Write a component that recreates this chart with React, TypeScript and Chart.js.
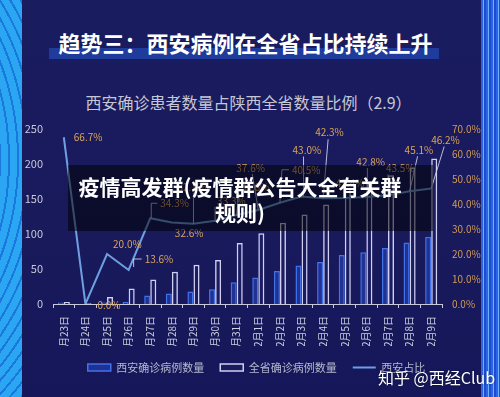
import React, { useEffect, useRef } from 'react';
import { Chart, registerables } from 'chart.js';

Chart.register(...registerables);

const categories = [
  '1月23日', '1月24日', '1月25日', '1月26日', '1月27日', '1月28日', '1月29日', '1月30日', '1月31日',
  '2月1日', '2月2日', '2月3日', '2月4日', '2月5日', '2月6日', '2月7日', '2月8日', '2月9日',
];
const xianCases = [2, 0, 2, 3, 12, 15, 18, 21, 31, 38, 47, 55, 60, 70, 74, 80, 88, 96];
const provinceCases = [3, 1, 10, 22, 35, 46, 56, 63, 87, 101, 116, 128, 142, 165, 173, 184, 195, 208];
const xianShare = [66.7, 0.0, 20.0, 13.6, 34.3, 32.6, 32.1, 33.3, 35.6, 37.6, 40.5, 43.0, 42.3, 42.4, 42.8, 43.5, 45.1, 46.2];
const seriesNames = ['西安确诊病例数量', '全省确诊病例数量', '西安占比'];
const titleText = '趋势三：西安病例在全省占比持续上升';
const subtitleText = '西安确诊患者数量占陕西全省数量比例（2.9）';
const overlayLine1 = '疫情高发群(疫情群公告大全有关群';
const overlayLine2 = '规则)';
const watermarkText = '知乎 @西经Club';

// label placement relative to each line point (style only)
const labelPlacement: { dx: number; dy: number; leader?: number[][] }[] = [
  { dx: 10, dy: 0 },
  { dx: 12, dy: 1 },
  { dx: 6, dy: -10 },
  { dx: 16, dy: -11, leader: [[5, -3], [5, -11], [13, -11]] },
  { dx: 10, dy: -15, leader: [[1, 0], [1, -15], [7, -15]] },
  { dx: 3, dy: 11 },
  { dx: -16, dy: -37, leader: [[0, 0], [0, -31]] },
  { dx: 2, dy: -20, leader: [[0, 0], [0, -14]] },
  { dx: 4, dy: -28, leader: [[0, 0], [2, -22]] },
  { dx: -22, dy: -42, leader: [[0, 0], [-6, -36]] },
  { dx: 12, dy: -33, leader: [[0, 0], [2, -33], [9, -33]] },
  { dx: -9, dy: -46, leader: [[2, 0], [2, -40]] },
  { dx: -8, dy: -66, leader: [[0, 0], [5, -59]] },
  { dx: -9, dy: -15 },
  { dx: -10, dy: -35, leader: [[1, 0], [1, -29]] },
  { dx: -2, dy: -27, leader: [[0, 0], [0, -21]] },
  { dx: -5, dy: -41, leader: [[0, 0], [8, -35]] },
  { dx: 0, dy: -48, leader: [[0, 0], [13, -42]] },
];

const FONT = "'Noto Sans CJK SC', 'Noto Sans', sans-serif";

const shareLabelPlugin = {
  id: 'shareLabels',
  afterDatasetsDraw(chart: any) {
    const meta = chart.getDatasetMeta(2);
    const ctx = chart.ctx;
    ctx.save();
    ctx.font = `10px ${FONT}`;
    ctx.textAlign = 'left';
    ctx.textBaseline = 'middle';
    meta.data.forEach((pt: any, i: number) => {
      const { x, y } = pt.getProps(['x', 'y'], true);
      const p = labelPlacement[i];
      if (!p) return;
      if (p.leader) {
        ctx.beginPath();
        ctx.strokeStyle = 'rgba(215,218,235,0.85)';
        ctx.lineWidth = 1;
        p.leader.forEach(([lx, ly], k) => {
          if (k === 0) ctx.moveTo(x + lx, y + ly);
          else ctx.lineTo(x + lx, y + ly);
        });
        ctx.stroke();
      }
      ctx.fillStyle = '#dba55a';
      ctx.fillText(xianShare[i].toFixed(1) + '%', x + p.dx, y + p.dy);
    });
    ctx.restore();
  },
};

export default function App() {
  const canvasRef = useRef<HTMLCanvasElement | null>(null);

  useEffect(() => {
    document.body.style.margin = '0';
    const canvas = canvasRef.current;
    if (!canvas) return;
    const chart = new Chart(canvas, {
      type: 'bar',
      data: {
        labels: categories,
        datasets: [
          {
            type: 'bar',
            label: seriesNames[0],
            data: xianCases,
            yAxisID: 'y',
            backgroundColor: 'rgba(40,66,185,0.6)',
            borderColor: '#4272ea',
            borderWidth: 1.5,
            barPercentage: 1,
            categoryPercentage: 0.56,
            order: 1,
          },
          {
            type: 'bar',
            label: seriesNames[1],
            data: provinceCases,
            yAxisID: 'y',
            backgroundColor: 'rgba(35,35,105,0.35)',
            borderColor: '#d2d0f2',
            borderWidth: 1.5,
            barPercentage: 1,
            categoryPercentage: 0.56,
            order: 1,
          },
          {
            type: 'line',
            label: seriesNames[2],
            data: xianShare,
            yAxisID: 'y1',
            borderColor: '#6f9fe0',
            backgroundColor: '#6f9fe0',
            borderWidth: 2,
            pointRadius: 0,
            tension: 0,
            order: 0,
          },
        ],
      },
      options: {
        responsive: false,
        animation: false,
        devicePixelRatio: 1,
        layout: { padding: { left: 13, right: 0, top: 129, bottom: 14 } },
        scales: {
          x: {
            offset: true,
            grid: {
              display: true,
              drawOnChartArea: false,
              drawTicks: true,
              tickLength: 4,
              color: '#c8c9da',
              offset: true,
            },
            border: { display: true, color: '#c8c9da', width: 1 },
            ticks: {
              color: '#cfd0e0',
              font: { family: FONT, size: 10 },
              maxRotation: 90,
              minRotation: 90,
              autoSkip: false,
              padding: 8,
            },
            afterFit: (s: any) => {
              s.height = 42;
            },
          },
          y: {
            position: 'left',
            min: 0,
            max: 250,
            grid: { display: false, drawTicks: false },
            border: { display: false },
            ticks: {
              stepSize: 50,
              color: '#c8c9da',
              font: { family: FONT, size: 11 },
              padding: 10,
            },
            afterFit: (s: any) => {
              s.width = 40;
            },
          },
          y1: {
            position: 'right',
            min: 0,
            max: 70,
            grid: { display: false, drawTicks: false },
            border: { display: false },
            ticks: {
              stepSize: 10,
              color: '#d29b56',
              font: { family: FONT, size: 10 },
              padding: 10,
              callback: (v: any) => Number(v).toFixed(1) + '%',
            },
            afterFit: (s: any) => {
              s.width = 58;
            },
          },
        },
        plugins: {
          legend: {
            position: 'bottom',
            labels: {
              usePointStyle: true,
              pointStyleWidth: 23,
              boxWidth: 23,
              boxHeight: 7,
              padding: 16,
              color: '#b6b9cc',
              font: { family: FONT, size: 11 },
              sort: (a: any, b: any) => a.datasetIndex - b.datasetIndex,
              generateLabels: (c: any) => {
                const items = (Chart as any).defaults.plugins.legend.labels.generateLabels(c);
                items.forEach((it: any) => {
                  it.pointStyle = it.datasetIndex === 2 ? 'line' : 'rect';
                  it.lineWidth = it.datasetIndex === 2 ? 2 : 1.5;
                });
                return items;
              },
            },
          },
          tooltip: { enabled: false },
          title: { display: false },
        },
      },
      plugins: [shareLabelPlugin],
    } as any);
    return () => chart.destroy();
  }, []);

  return (
    <div
      style={{
        position: 'fixed',
        left: 0,
        top: 0,
        width: 500,
        height: 397,
        overflow: 'hidden',
        background: 'linear-gradient(180deg, #1a1c60 0%, #181a5c 60%, #15175a 100%)',
        fontFamily: FONT,
      }}
    >
      <div
        style={{
          position: 'absolute',
          left: 0,
          top: 0,
          width: 22,
          height: 397,
          background:
            'repeating-radial-gradient(circle at -260px 160px, #2aa6f2 0px, #2aa6f2 7px, #1a78dc 7px, #1a78dc 9px)',
        }}
      />
      <div
        style={{
          position: 'absolute',
          left: 481,
          top: 0,
          width: 19,
          height: 397,
          background:
            'repeating-linear-gradient(90deg, #2a64e8 0px, #2a64e8 2px, #6fb0ff 2px, #6fb0ff 3px, #1f4ccc 3px, #1f4ccc 5px)',
        }}
      />
      <div
        style={{
          position: 'absolute',
          left: 49,
          top: 48,
          width: 390,
          height: 11,
          background: '#1f3b9c',
        }}
      />
      <div
        style={{
          position: 'absolute',
          left: 0,
          top: 28,
          width: 491,
          textAlign: 'center',
          color: '#ffffff',
          fontSize: 22,
          fontWeight: 700,
          lineHeight: '28px',
          whiteSpace: 'nowrap',
        }}
      >
        {titleText}
      </div>
      <div
        style={{
          position: 'absolute',
          left: 0,
          top: 92,
          width: 497,
          textAlign: 'center',
          color: '#c6c7d4',
          fontSize: 16,
          lineHeight: '20px',
          whiteSpace: 'nowrap',
        }}
      >
        {subtitleText}
      </div>
      <canvas
        ref={canvasRef}
        width={500}
        height={397}
        style={{ position: 'absolute', left: 0, top: 0, width: 500, height: 397 }}
      />
      <div
        style={{
          position: 'absolute',
          left: 68,
          top: 165,
          width: 365,
          height: 66,
          background: 'rgba(0,0,0,0.52)',
        }}
      />
      <div
        style={{
          position: 'absolute',
          left: 40,
          top: 173,
          width: 400,
          textAlign: 'center',
          color: '#ffffff',
          fontSize: 21,
          fontWeight: 700,
          lineHeight: '26px',
          whiteSpace: 'nowrap',
        }}
      >
        {overlayLine1}
        <br />
        {overlayLine2}
      </div>
      <div
        style={{
          position: 'absolute',
          left: 378,
          top: 367,
          color: '#ffffff',
          fontSize: 16,
          lineHeight: '20px',
          whiteSpace: 'nowrap',
          textShadow: '0 0 2px rgba(0,0,0,0.5)',
        }}
      >
        {watermarkText}
      </div>
    </div>
  );
}
